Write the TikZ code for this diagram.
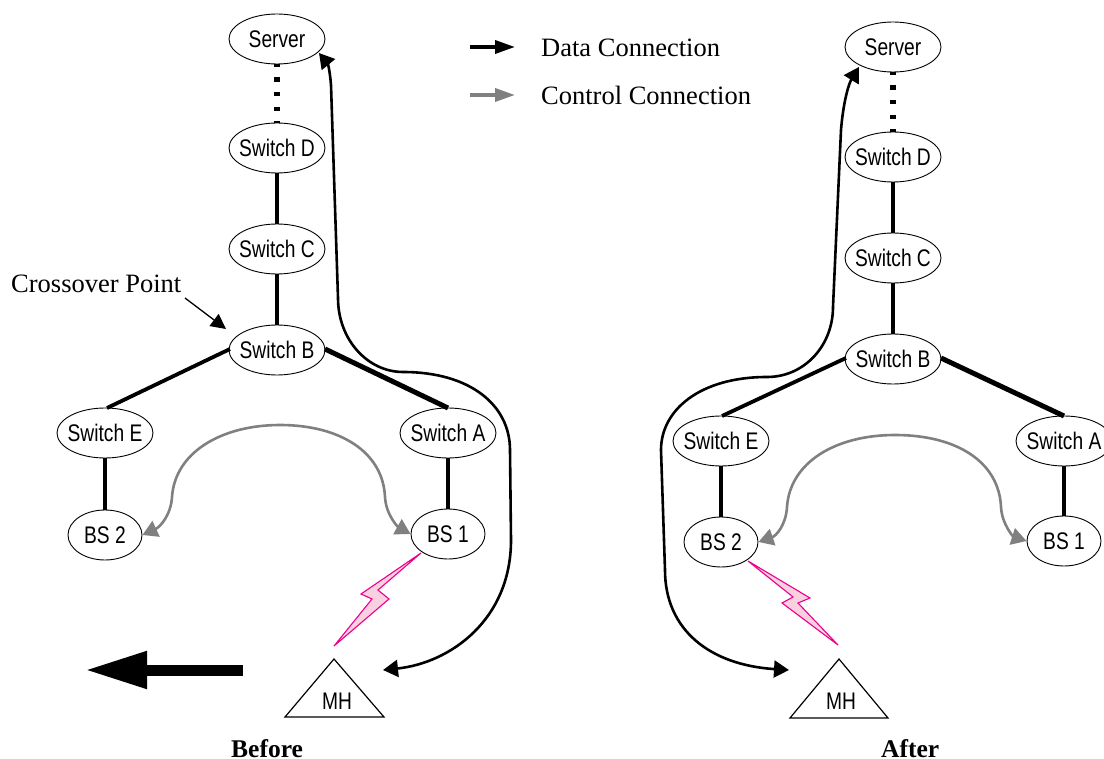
\documentclass[tikz,border=0pt]{standalone}
\usepackage{fontspec}
\usetikzlibrary{arrows.meta,shapes.geometric}
\setmainfont{Liberation Serif}
\newfontfamily\lblfont[FakeStretch=0.8]{Liberation Sans}
\definecolor{pinkline}{RGB}{236,0,140}
\definecolor{pinkfill}{RGB}{249,208,224}
\definecolor{ctrlgray}{RGB}{128,128,128}
\tikzset{
  elnode/.style={draw=black,line width=0.9pt,ellipse,inner xsep=-6pt,inner ysep=0pt,minimum width=96pt,minimum height=50pt,font=\lblfont\fontsize{24}{24}\selectfont},
  elbs/.style={elnode,minimum width=74pt},
  treeln/.style={draw=black,line width=3.6pt},
  treeln2/.style={draw=black,line width=3.8pt},
  treeln3/.style={draw=black,line width=5pt},
  dotsln/.style={draw=black,line width=5.4pt,dash pattern=on 4.4pt off 10.3pt,dash phase=2pt},
  dataln/.style={draw=black,line width=2.6pt,{Triangle[length=15pt,width=17pt]}-{Triangle[length=15pt,width=17pt]}},
  ctrlln/.style={draw=ctrlgray,line width=2.6pt,-{Triangle[length=15pt,width=17pt]}},
  legenda/.style={line width=3.6pt,-{Triangle[length=20pt,width=13pt]}},
  serif/.style={font=\fontsize{26.5}{27}\selectfont,inner sep=0pt,anchor=base west},
  serifb/.style={inner sep=0pt,anchor=base west,font=\bfseries\fontsize{25.5}{27}\selectfont},
  bolt/.style={draw=pinkline,fill=pinkfill,line width=1.1pt,line join=miter},
  mh/.style={draw=black,line width=1.2pt,line join=miter},
  lbl/.style={inner sep=0pt,font=\lblfont\fontsize{24}{24}\selectfont}
}
\begin{document}
\begin{tikzpicture}[x=1pt,y=-1pt]
\useasboundingbox (0,0) rectangle (1104,759);
% Before
\node[elnode] (s1) at (277,39) {Server};
\node[elnode] (d1) at (277,148) {Switch D};
\node[elnode] (c1) at (277,249) {Switch C};
\node[elnode] (b1) at (277,350) {Switch B};
\node[elnode] (e1) at (105,433) {Switch E};
\node[elnode] (a1) at (448,433) {Switch A};
\node[elbs] (n21) at (105,535) {BS 2};
\node[elbs] (n11) at (448,534) {BS 1};
\draw[dotsln] (s1.south) -- (d1.north);
\draw[treeln] (d1) -- (c1);
\draw[treeln] (c1) -- (b1);
\draw[treeln] (e1) -- (n21);
\draw[treeln] (a1) -- (n11);
\coordinate (be1) at (107,408);
\coordinate (ba1) at (448,408);
\coordinate (bw1) at (230,349);
\coordinate (be1s) at (325,349);
\draw[treeln2] (bw1) -- (be1);
\draw[treeln3] (be1s) -- (ba1);
\draw[mh] (334,659) coordinate (t1) -- (285,717) -- (384,717) -- cycle;
\node[lbl] (m1) at (337,701) {MH};
\draw[bolt] (421,553) -- (361,594) -- (372,599) -- (334,646) -- (389,599) -- (378,590) -- cycle;
\coordinate (p1a) at (383,670);
\coordinate (p1b) at (319,53);
\draw[dataln] (p1a) .. controls (450,663) and (511,620) .. (511,540)
  -- (510,450) .. controls (510,405) and (470,372) .. (403,372)
  .. controls (368,372) and (338,340) .. (338,298)
  -- (331,85) .. controls (330,72) and (328,64) .. (p1b);
\coordinate (g1) at (172,497);
\draw[ctrlln] (g1) .. controls (175,452) and (222,425) .. (280,425)
  .. controls (340,425) and (383,452) .. (385,497)
  .. controls (386,515) and (398,527) .. (n11.west);
\draw[ctrlln] (g1) .. controls (171,515) and (160,527) .. (n21.east);
\coordinate (x1) at (185,298);
\coordinate (x2) at (226,329);
\draw[-{Triangle[length=15pt,width=15pt]},line width=1.3pt] (x1) -- (x2);
\node[serif] (co) at (11,293) {Crossover Point};
% big arrow
\coordinate (ba) at (243,670);
\coordinate (bb) at (85,670);
\draw[line width=11pt,-{Triangle[length=62pt,width=35pt]}] (ba) -- (bb);
\node[serifb] (before) at (231,757.5) {Before};
% Legend
\coordinate (l1a) at (470,47); \coordinate (l1b) at (515,47);
\coordinate (l2a) at (470,95); \coordinate (l2b) at (515,95);
\draw[legenda,black] (l1a) -- (l1b);
\draw[legenda,ctrlgray] (l2a) -- (l2b);
\node[serif] (ldata) at (541,57) {Data Connection};
\node[serif] (lctrl) at (541,105) {Control Connection};
% After
\node[elnode] (s2) at (893,47) {Server};
\node[elnode] (d2) at (893,157) {Switch D};
\node[elnode] (c2) at (893,258) {Switch C};
\node[elnode] (b2) at (893,359) {Switch B};
\node[elnode] (e2) at (721,441) {Switch E};
\node[elnode] (a2) at (1064,441) {Switch A};
\node[elbs] (n22) at (721,542) {BS 2};
\node[elbs] (n12) at (1064,541) {BS 1};
\draw[dotsln] (s2.south) -- (d2.north);
\draw[treeln] (d2) -- (c2);
\draw[treeln] (c2) -- (b2);
\draw[treeln] (e2) -- (n22);
\draw[treeln] (a2) -- (n12);
\coordinate (be2) at (722,416);
\coordinate (ba2) at (1064,416);
\coordinate (bw2) at (846,358);
\coordinate (be2s) at (941,358);
\draw[treeln2] (bw2) -- (be2);
\draw[treeln3] (be2s) -- (ba2);
\draw[mh] (839,659) coordinate (t2) -- (790,718) -- (888,718) -- cycle;
\node[lbl] (m2) at (841,701) {MH};
\draw[bolt] (748,561) -- (810,598) -- (798,603) -- (838,645) -- (782,603) -- (793,597) -- cycle;
\coordinate (p2a) at (789,670);
\coordinate (p2b) at (859,67);
\draw[dataln] (p2a) .. controls (710,665) and (665,630) .. (665,570)
  -- (661,450) .. controls (661,410) and (700,377) .. (767,377)
  .. controls (805,377) and (833,345) .. (833,307)
  -- (841,130) .. controls (843,105) and (848,85) .. (p2b);
\coordinate (g2) at (787,507);
\draw[ctrlln] (g2) .. controls (790,462) and (836,435) .. (895,435)
  .. controls (957,435) and (999,462) .. (1001,507)
  .. controls (1002,525) and (1014,537) .. (n12.west);
\draw[ctrlln] (g2) .. controls (786,525) and (776,536) .. (n22.east);
\node[serifb] (after) at (881,757.5) {After};
\end{tikzpicture}
\end{document}
